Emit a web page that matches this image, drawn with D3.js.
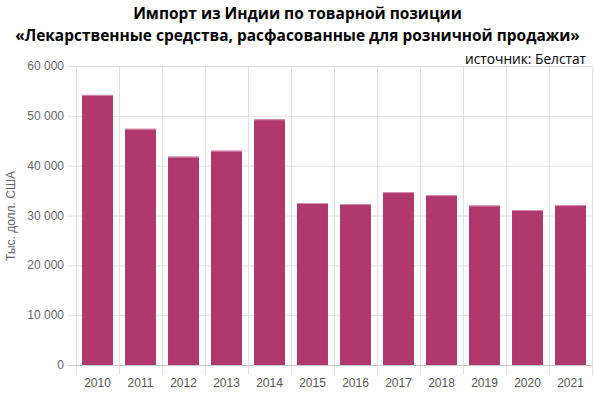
<!DOCTYPE html>
<html><head><meta charset="utf-8">
<script src="https://cdn.jsdelivr.net/npm/d3@7"></script>
<style>html,body{margin:0;padding:0;background:#fff;}svg{display:block;}</style>
</head><body>
<svg id="c" width="594" height="396"></svg>
<script>
const years = ["2010","2011","2012","2013","2014","2015","2016","2017","2018","2019","2020","2021"];
const values = [54200, 47400, 41800, 43000, 49300, 32500, 32300, 34700, 34100, 32000, 31100, 32100];
const yTicks = [0, 10000, 20000, 30000, 40000, 50000, 60000];
const titleLines = ["Импорт из Индии по товарной позиции", "«Лекарственные средства, расфасованные для розничной продажи»"];
const sourceText = "источник: Белстат";
const yLabel = "Тыс. долл. США";

const svg = d3.select("#c");
const m = {left: 76, right: 592, top: 66, bottom: 365};
const x = d3.scaleBand().domain(years).range([m.left, m.right]).paddingInner(0.28).paddingOuter(0.14);
const y = d3.scaleLinear().domain([0, 60000]).range([m.bottom, m.top]);
const fmt = v => d3.format(",")(v).replace(/,/g, " ");

// horizontal grid
svg.append("g").selectAll("line").data(yTicks.filter(d => d > 0)).join("line")
  .attr("x1", 68).attr("x2", m.right).attr("y1", d => y(d) + 0.5).attr("y2", d => y(d) + 0.5)
  .attr("stroke", "#e0e0e0").attr("stroke-width", 1);
// vertical grid
const bounds = d3.range(years.length + 1).map(i => m.left + i * (m.right - m.left) / years.length);
svg.append("g").selectAll("line").data(bounds).join("line")
  .attr("x1", d => Math.round(d) + 0.5).attr("x2", d => Math.round(d) + 0.5)
  .attr("y1", m.top).attr("y2", m.bottom + 10)
  .attr("stroke", "#e0e0e0").attr("stroke-width", 1);

// bars
svg.append("g").selectAll("rect").data(years).join("rect")
  .attr("x", d => x(d)).attr("width", x.bandwidth())
  .attr("y", (d, i) => y(values[i])).attr("height", (d, i) => y(0) - y(values[i]))
  .attr("fill", "#b0386d");
svg.append("g").selectAll("line").data(years).join("line")
  .attr("x1", d => x(d)).attr("x2", d => x(d) + x.bandwidth())
  .attr("y1", (d, i) => y(values[i]) + 0.5).attr("y2", (d, i) => y(values[i]) + 0.5)
  .attr("stroke", "#d48fae").attr("stroke-width", 1);

// x axis line
svg.append("line").attr("x1", 68).attr("x2", m.right).attr("y1", m.bottom + 0.5).attr("y2", m.bottom + 0.5)
  .attr("stroke", "#c8c8c8");

// y tick labels
svg.append("g").selectAll("text").data(yTicks).join("text")
  .attr("x", 64).attr("y", d => y(d) + 4)
  .attr("text-anchor", "end").attr("font-family", "Liberation Sans, Arial, sans-serif")
  .attr("font-size", 12).attr("fill", "#666").text(fmt);

// x tick labels
svg.append("g").selectAll("text").data(years).join("text")
  .attr("x", d => x(d) + x.bandwidth() / 2).attr("y", 387)
  .attr("text-anchor", "middle").attr("font-family", "Liberation Sans, Arial, sans-serif")
  .attr("font-size", 12).attr("fill", "#555").text(d => d);

// y label
svg.append("text").attr("transform", "translate(15,216) rotate(-90)")
  .attr("text-anchor", "middle").attr("font-family", "Liberation Sans, Arial, sans-serif")
  .attr("font-size", 12).attr("fill", "#666").text(yLabel);

// title
svg.append("g").selectAll("text").data(titleLines).join("text")
  .attr("x", 297.5).attr("y", (d, i) => 19 + i * 22)
  .attr("text-anchor", "middle").attr("font-family", "Open Sans, sans-serif")
  .attr("font-weight", "bold").attr("font-size", 16).attr("fill", "#000").text(d => d)
  .each(function(d, i) {
    const target = i === 0 ? 329 : 565;
    const w = this.getComputedTextLength();
    d3.select(this).attr("font-size", 16 * target / w);
  });

// source
svg.append("text").attr("x", 586).attr("y", 64).attr("text-anchor", "end")
  .attr("font-family", "Open Sans, sans-serif").attr("font-size", 13).attr("fill", "#000")
  .text(sourceText)
  .each(function() {
    const w = this.getComputedTextLength();
    d3.select(this).attr("font-size", 13 * 121 / w);
  });
</script>
</body></html>
